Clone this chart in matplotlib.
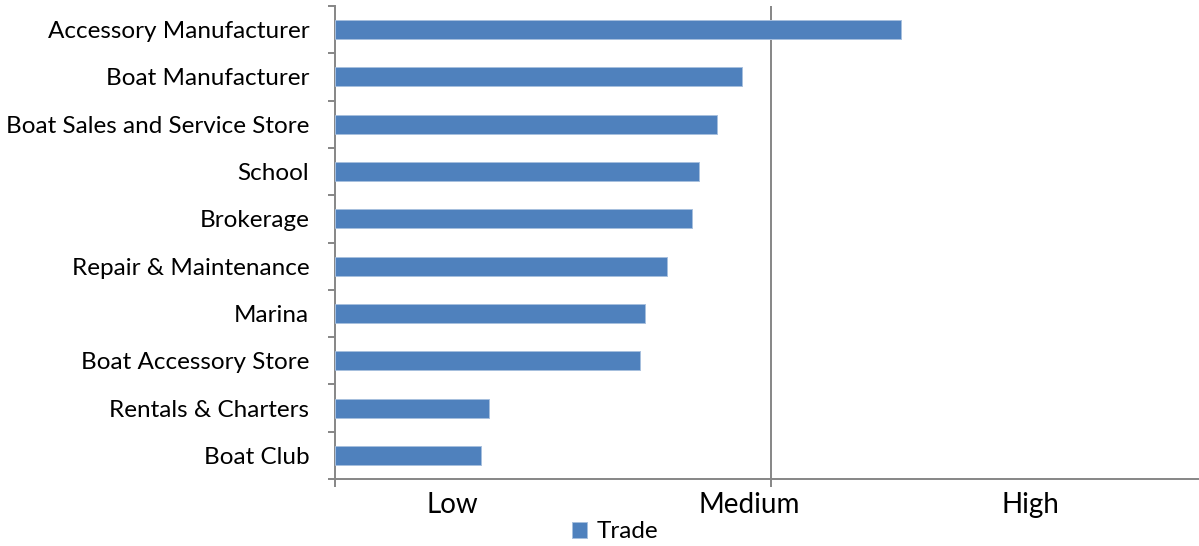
import matplotlib.pyplot as plt
from matplotlib.transforms import blended_transform_factory

# Data, top to bottom as shown
categories = ['Accessory Manufacturer', 'Boat Manufacturer', 'Boat Sales and Service Store',
              'School', 'Brokerage', 'Repair & Maintenance', 'Marina',
              'Boat Accessory Store', 'Rentals & Charters', 'Boat Club']
trade = [1.298, 0.933, 0.875, 0.834, 0.818, 0.761, 0.712, 0.700, 0.354, 0.334]
level_labels = ['Low', 'Medium', 'High']
level_pos = [0.268, 0.950, 1.594]

BAR = '#4F81BD'
AXIS = '#868686'


def main():
    plt.rcParams['font.family'] = ['Lato', 'DejaVu Sans']

    fig = plt.figure(figsize=(11.99, 5.46), dpi=100)
    ax = fig.add_axes([335 / 1199, 67 / 546, (1207 - 335) / 1199, (479 - 6) / 546])

    y = list(range(len(categories)))
    bars = ax.barh(y, trade, height=0.4, color=BAR, edgecolor='#a7bfde',
                   linewidth=0.7, label='Trade', zorder=3)

    ax.set_ylim(len(categories) - 0.5, -0.5)
    ax.set_xlim(0, 2)

    # axes styling
    for side in ['top', 'right']:
        ax.spines[side].set_visible(False)
    for side in ['left', 'bottom']:
        ax.spines[side].set_color(AXIS)
        ax.spines[side].set_linewidth(1.4)

    ax.set_yticks(y)
    ax.set_yticklabels(categories, fontsize=17.5, color='black')
    ax.set_yticks([i - 0.5 for i in range(len(categories) + 1)], minor=True)
    ax.tick_params(axis='y', which='major', length=0, pad=18.5)
    ax.tick_params(axis='y', which='minor', length=5, width=1.4, color=AXIS, direction='out')

    ax.set_xticks([0, 1, 2])
    ax.set_xticklabels(['', '', ''])
    ax.tick_params(axis='x', which='major', length=6, width=1.4, color=AXIS, direction='out')
    ax.axvline(1, color=AXIS, linewidth=1.4, zorder=2)

    # Low / Medium / High labels under the axis
    trans = blended_transform_factory(ax.transData, fig.transFigure)
    for lab, xpos in zip(level_labels, level_pos):
        ax.text(xpos, 1 - 505 / 546, lab, transform=trans, ha='center', va='center',
                fontsize=20, color='black')

    fig.legend(handles=[bars], labels=['Trade'], loc='center',
               bbox_to_anchor=(0.513, 1 - 532 / 546), frameon=False, fontsize=17.5,
               handlelength=0.6, handleheight=0.6, handletextpad=0.4,
               borderpad=0.1)

    fig.savefig('out.png', dpi=100)


if __name__ == '__main__':
    main()
